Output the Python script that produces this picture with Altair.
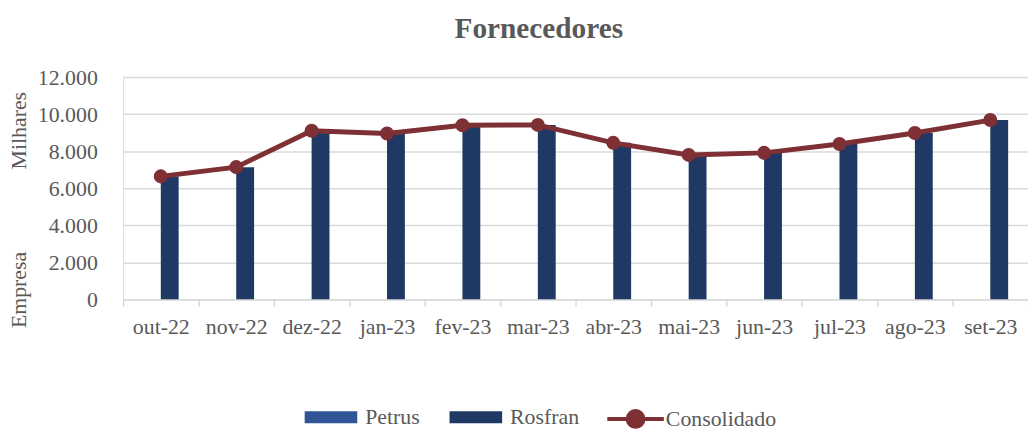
import altair as alt
import pandas as pd

months = ["out-22", "nov-22", "dez-22", "jan-23", "fev-23", "mar-23",
          "abr-23", "mai-23", "jun-23", "jul-23", "ago-23", "set-23"]
petrus = [0, 0, 0, 0, 0, 0, 0, 0, 0, 0, 0, 0]
rosfran = [6640, 7140, 9100, 8960, 9400, 9420, 8450, 7800, 7910, 8390, 8980, 9680]
consolidado = [6640, 7140, 9100, 8960, 9400, 9420, 8450, 7800, 7910, 8390, 8980, 9680]
series_bars = ["Petrus", "Rosfran"]
series_line = "Consolidado"
title_text = "Fornecedores"
y_title = "Empresa"
units_label = "Milhares"

FONT = "Liberation Serif"
GRAY = "#595959"
GRID = "#D9D9D9"
BAR_COLORS = ["#2F5597", "#1F3864"]
LINE_COLOR = "#7F3035"

bars_df = pd.DataFrame(
    [{"mes": m, "serie": "Petrus", "valor": v} for m, v in zip(months, petrus)]
    + [{"mes": m, "serie": "Rosfran", "valor": v} for m, v in zip(months, rosfran)]
)
line_df = pd.DataFrame({"mes": months, "valor": consolidado, "serie": series_line})
units_df = pd.DataFrame({"t": [units_label]})
title_df = pd.DataFrame({"t": [title_text]})

x_scale = alt.Scale(domain=months, paddingInner=0, paddingOuter=0)
x_axis = alt.Axis(
    title=None, labelAngle=0, labelFont=FONT, labelFontSize=22, labelColor=GRAY,
    labelPadding=10, domainColor=GRID, domainWidth=1.5, tickColor=GRID,
    tickWidth=1.5, tickSize=7, tickBand="extent", grid=False, labelOverlap=False,
)
y_scale = alt.Scale(domain=[0, 12000])
y_axis = alt.Axis(
    title=y_title, values=list(range(0, 12001, 2000)),
    labelExpr="replace(format(datum.value, ','), ',', '.')",
    labelFont=FONT, labelFontSize=22, labelColor=GRAY, labelPadding=26,
    labelOverlap=False,
    ticks=False, domain=False, grid=True, gridColor=GRID, gridWidth=1.5,
    titleFont=FONT, titleFontSize=22, titleColor=GRAY, titleFontWeight="normal",
    titleAngle=270, titleX=-105, titleY=214, titleAlign="center",
    titleBaseline="middle",
)

rect_path = "M-1,-0.23H1V0.23H-1Z"
line_path = "M-1,0H1M-0.28,0A0.28,0.28 0 1,0 0.28,0A0.28,0.28 0 1,0 -0.28,0Z"

offset_domain = ["_l"] + series_bars + ["_r"]

bars = alt.Chart(bars_df).mark_bar().encode(
    x=alt.X("mes:N", scale=x_scale, axis=x_axis, sort=months),
    xOffset=alt.XOffset(
        "serie:N",
        scale=alt.Scale(domain=offset_domain, paddingInner=0, paddingOuter=0.111),
    ),
    y=alt.Y("valor:Q", scale=y_scale, axis=y_axis),
    color=alt.Color(
        "serie:N",
        scale=alt.Scale(domain=series_bars, range=BAR_COLORS),
        legend=alt.Legend(
            title=None, orient="none", legendX=183, legendY=316, direction="horizontal",
            symbolType=rect_path, symbolSize=2809, symbolStrokeWidth=0,
            labelFont=FONT, labelFontSize=22, labelColor=GRAY, labelOffset=8,
            columnPadding=30,
        ),
    ),
)

line = alt.Chart(line_df).mark_line(
    strokeWidth=5,
    point=alt.OverlayMarkDef(filled=True, size=200, opacity=1),
).encode(
    x=alt.X("mes:N", scale=x_scale, sort=months, axis=x_axis),
    y=alt.Y("valor:Q", scale=y_scale, axis=y_axis),
    color=alt.Color(
        "serie:N",
        scale=alt.Scale(domain=[series_line], range=[LINE_COLOR]),
        legend=alt.Legend(
            title=None, orient="none", legendX=486, legendY=314,
            symbolType=line_path, symbolSize=3249, symbolStrokeWidth=4,
            symbolFillColor=LINE_COLOR,
            labelFont=FONT, labelFontSize=22, labelColor=GRAY, labelOffset=0,
        ),
    ),
)

units = alt.Chart(units_df).mark_text(
    font=FONT, fontSize=22, color=GRAY, angle=270, align="center", baseline="middle",
).encode(
    text="t:N", x=alt.value(-105), y=alt.value(54),
)

title = alt.Chart(title_df).mark_text(
    font=FONT, fontSize=29.5, fontWeight="bold", color=GRAY, align="center",
    baseline="alphabetic",
).encode(
    text="t:N", x=alt.value(419), y=alt.value(-39),
)

chart = (
    alt.layer(bars, line, units, title)
    .resolve_scale(color="independent")
    .resolve_legend(color="independent")
    .properties(
        width=912, height=224,
        autosize=alt.AutoSizeParams(type="none"),
        padding={"left": 116, "top": 68, "right": 0, "bottom": 130},
    )
    .configure_view(stroke=None)
    .configure_legend(labelFont=FONT, labelFontSize=22, labelColor=GRAY)
    .configure(
        background="white", font=FONT,
        style={"guide-label": {"font": FONT, "fontSize": 22, "fill": GRAY}},
    )
)

chart.save("out.html", embed_options={"renderer": "svg", "actions": False})
